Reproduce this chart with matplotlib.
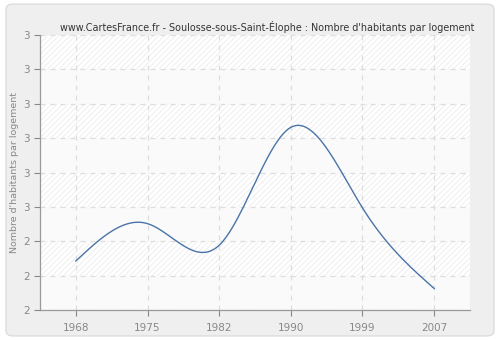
import numpy as np
import matplotlib
matplotlib.use("Agg")
import matplotlib.pyplot as plt
from matplotlib.patches import FancyBboxPatch

years = ["1968", "1975", "1982", "1990", "1999", "2007"]
values = [2.25, 2.44, 2.33, 2.93, 2.52, 2.11]
ytick_values = [2.0, 2.175, 2.35, 2.525, 2.7, 2.875, 3.05, 3.225, 3.4]
ytick_labels = ["2", "2", "2", "3", "3", "3", "3", "3", "3"]
title = "www.CartesFrance.fr - Soulosse-sous-Saint-Élophe : Nombre d'habitants par logement"
ylabel = "Nombre d'habitants par logement"


def natural_spline(x, y, xs):
    x = np.asarray(x, float); y = np.asarray(y, float)
    n = len(x)
    h = np.diff(x)
    A = np.zeros((n, n)); r = np.zeros(n)
    A[0, 0] = 1; A[-1, -1] = 1
    for i in range(1, n - 1):
        A[i, i - 1] = h[i - 1]
        A[i, i] = 2 * (h[i - 1] + h[i])
        A[i, i + 1] = h[i]
        r[i] = 3 * ((y[i + 1] - y[i]) / h[i] - (y[i] - y[i - 1]) / h[i - 1])
    c = np.linalg.solve(A, r)
    out = np.empty_like(xs)
    for k, xv in enumerate(xs):
        i = min(max(np.searchsorted(x, xv) - 1, 0), n - 2)
        dx = xv - x[i]
        b = (y[i + 1] - y[i]) / h[i] - h[i] * (2 * c[i] + c[i + 1]) / 3
        d = (c[i + 1] - c[i]) / (3 * h[i])
        out[k] = y[i] + b * dx + c[i] * dx ** 2 + d * dx ** 3
    return out


plt.rcParams["hatch.linewidth"] = 0.6
fig = plt.figure(figsize=(5, 3.4), dpi=100)
fig.patch.set_facecolor("white")
bg = FancyBboxPatch((0.012, 0.012), 0.976, 0.976, boxstyle="round,pad=0,rounding_size=0.015",
                    transform=fig.transFigure, fc="#efefef", ec="#dddddd", lw=1.0, zorder=-10)
fig.patches.append(bg)

ax = fig.add_axes([0.08, 0.088, 0.86, 0.809])
ax.set_zorder(5)
ax.set_facecolor("#fafafa")
idx = np.arange(len(years))
ax.set_xlim(-0.5, len(years) - 0.5)
ax.set_ylim(ytick_values[0], ytick_values[-1])

# alternating hatched bands
for i in range(len(ytick_values) - 1):
    if (len(ytick_values) - 2 - i) % 2 == 0:
        ax.axhspan(ytick_values[i], ytick_values[i + 1], facecolor="white",
                   edgecolor="#ececec", hatch="//////", lw=0, zorder=0)

ax.grid(True, color="#dddddd", linestyle=(0, (4, 4)), linewidth=0.9, zorder=1)
ax.set_axisbelow(True)

xs = np.linspace(0, len(years) - 1, 400)
ax.plot(xs, natural_spline(idx, values, xs), color="#4a74a8", lw=1.0, zorder=3)

ax.set_xticks(idx)
ax.set_xticklabels(years)
ax.set_yticks(ytick_values)
ax.set_yticklabels(ytick_labels)
ax.tick_params(colors="#888888", labelsize=7.5, length=4, width=0.8, direction="out")
ax.tick_params(axis="x", pad=5)
for s in ["top", "right"]:
    ax.spines[s].set_visible(False)
for s in ["left", "bottom"]:
    ax.spines[s].set_color("#999999")
    ax.spines[s].set_linewidth(0.9)

ax.set_ylabel(ylabel, color="#888888", fontsize=6.8)
ax.yaxis.set_label_coords(-0.048, 0.5)
fig.text(0.535, 0.922, title, ha="center", va="center", fontsize=6.9, color="#333333")

fig.savefig("out.png", dpi=100, facecolor="white")
